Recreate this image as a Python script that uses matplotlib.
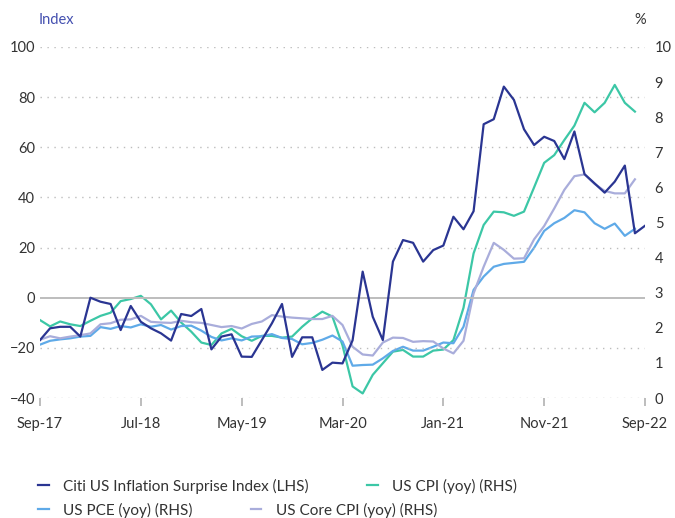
import numpy as np
import matplotlib
matplotlib.use("Agg")
import matplotlib.pyplot as plt

plt.rcParams['font.family'] = ['Lato', 'DejaVu Sans']

# monthly, Sep-17 .. Sep-22
citi = [-16.9, -12.2, -11.6, -11.6, -15.5, 0.0, -1.6, -2.5, -12.9, -3.3,
        -9.6, -12.2, -14.2, -17.1, -6.5, -7.3, -4.5, -20.6, -15.5, -14.6,
        -23.5, -23.6, -16.9, -10.2, -2.5, -23.6, -15.8, -15.8, -28.8, -25.9,
        -26.2, -17.0, 10.4, -7.6, -16.9, 14.4, 23.0, 21.9, 14.4, 19.0,
        20.8, 32.3, 27.3, 34.5, 69.2, 71.2, 84.2, 78.9, 67.2, 60.9,
        64.2, 62.5, 55.3, 66.3, 49.3, 45.6, 41.9, 46.3, 52.7, 25.7, 28.7]

# Sep-17 .. Aug-22
cpi = [2.22, 2.04, 2.18, 2.10, 2.05, 2.20, 2.34, 2.43, 2.76, 2.82,
       2.91, 2.67, 2.24, 2.49, 2.15, 1.89, 1.58, 1.51, 1.84, 1.97,
       1.76, 1.63, 1.77, 1.77, 1.72, 1.75, 2.03, 2.27, 2.46, 2.32,
       1.50, 0.33, 0.13, 0.66, 0.99, 1.32, 1.37, 1.18, 1.18, 1.35,
       1.38, 1.65, 2.57, 4.12, 4.93, 5.31, 5.29, 5.19, 5.31, 6.00,
       6.70, 6.92, 7.35, 7.76, 8.41, 8.14, 8.41, 8.92, 8.41, 8.16]

pce = [1.52, 1.63, 1.67, 1.70, 1.75, 1.77, 2.02, 1.97, 2.05, 2.01,
       2.10, 2.03, 2.08, 1.95, 2.05, 2.06, 1.92, 1.74, 1.64, 1.70,
       1.64, 1.75, 1.76, 1.82, 1.71, 1.68, 1.53, 1.57, 1.66, 1.78,
       1.61, 0.92, 0.94, 0.95, 1.13, 1.34, 1.46, 1.35, 1.35, 1.46,
       1.58, 1.56, 2.03, 3.08, 3.46, 3.74, 3.82, 3.85, 3.88, 4.28,
       4.76, 4.98, 5.13, 5.35, 5.29, 4.98, 4.82, 4.97, 4.62, 4.82]

core_cpi = [1.66, 1.76, 1.70, 1.75, 1.79, 1.84, 2.10, 2.13, 2.23, 2.24,
            2.34, 2.17, 2.15, 2.14, 2.20, 2.16, 2.14, 2.08, 2.02, 2.05,
            1.98, 2.11, 2.18, 2.36, 2.32, 2.29, 2.27, 2.25, 2.25, 2.34,
            2.08, 1.46, 1.24, 1.21, 1.58, 1.72, 1.71, 1.60, 1.62, 1.61,
            1.41, 1.27, 1.63, 2.98, 3.74, 4.42, 4.22, 3.97, 3.98, 4.52,
            4.90, 5.40, 5.93, 6.32, 6.37, 6.10, 5.90, 5.83, 5.83, 6.23]

xtick_pos = [0, 10, 20, 30, 40, 50, 60]
xtick_labels = ["Sep-17", "Jul-18", "May-19", "Mar-20", "Jan-21", "Nov-21", "Sep-22"]
left_ticks = [100, 80, 60, 40, 20, 0, -20, -40]
right_ticks = list(range(0, 11))

NAVY = '#2a3592'
TEAL = '#3cc7a6'
BLUE = '#5faae8'
LAV = '#a9addb'
TXT = '#333333'
GRID = '#bdbdbd'

fig = plt.figure(figsize=(6.75, 5.18), dpi=100)
ax = fig.add_axes([40/675, 1-398/518, 605/675, 351/518])
ax2 = ax.twinx()

# RHS lines underneath, Citi on top
ax2.plot(np.arange(len(cpi)), cpi, color=TEAL, lw=1.6, label='US CPI (yoy) (RHS)')
ax2.plot(np.arange(len(pce)), pce, color=BLUE, lw=1.6, label='US PCE (yoy) (RHS)')
ax2.plot(np.arange(len(core_cpi)), core_cpi, color=LAV, lw=1.6, label='US Core CPI (yoy) (RHS)')

for v in left_ticks:
    if v == 0:
        ax.axhline(v, color=GRID, lw=1.4, zorder=0)
    else:
        ax.axhline(v, color=GRID, lw=1.0, ls=(0, (1, 4)), zorder=0)
ax.plot(np.arange(len(citi)), citi, color=NAVY, lw=1.6, label='Citi US Inflation Surprise Index (LHS)')

ax.set_zorder(ax2.get_zorder() + 1)
ax.patch.set_visible(False)

ax.set_xlim(0, 60)
ax.set_ylim(-40, 100)
ax2.set_ylim(0, 10)

for a in (ax, ax2):
    for s in a.spines.values():
        s.set_visible(False)

ax.set_yticks(left_ticks)
ax.tick_params(axis='y', length=0, pad=3.5, labelsize=10.5, labelcolor=TXT)
ax2.set_yticks(right_ticks)
ax2.tick_params(axis='y', length=0, pad=7, labelsize=10.5, labelcolor=TXT)
ax.set_xticks(xtick_pos)
ax.set_xticklabels(xtick_labels)
ax.tick_params(axis='x', length=6, width=1.4, color=GRID, pad=8, labelsize=10.5, labelcolor=TXT)

fig.text(39/675, 1-20/518, 'Index', color='#4450b0', fontsize=10.5, va='center', ha='left')
fig.text(646/675, 1-20/518, '%', color=TXT, fontsize=10.5, va='center', ha='right')

h1, l1 = ax.get_legend_handles_labels()
h2, l2 = ax2.get_legend_handles_labels()
leg_kw = dict(frameon=False, loc='center left', ncol=2, fontsize=11, labelcolor=TXT,
              handlelength=0.7, handletextpad=0.95, columnspacing=3.8, borderpad=0,
              borderaxespad=0)
leg1 = fig.legend([h1[0], h2[0]], [l1[0], l2[0]],
                  bbox_to_anchor=(38/675, 1-486/518), **leg_kw)
leg2 = fig.legend([h2[1], h2[2]], [l2[1], l2[2]],
                  bbox_to_anchor=(38/675, 1-510/518), **leg_kw)

fig.savefig('out.png', dpi=100)
